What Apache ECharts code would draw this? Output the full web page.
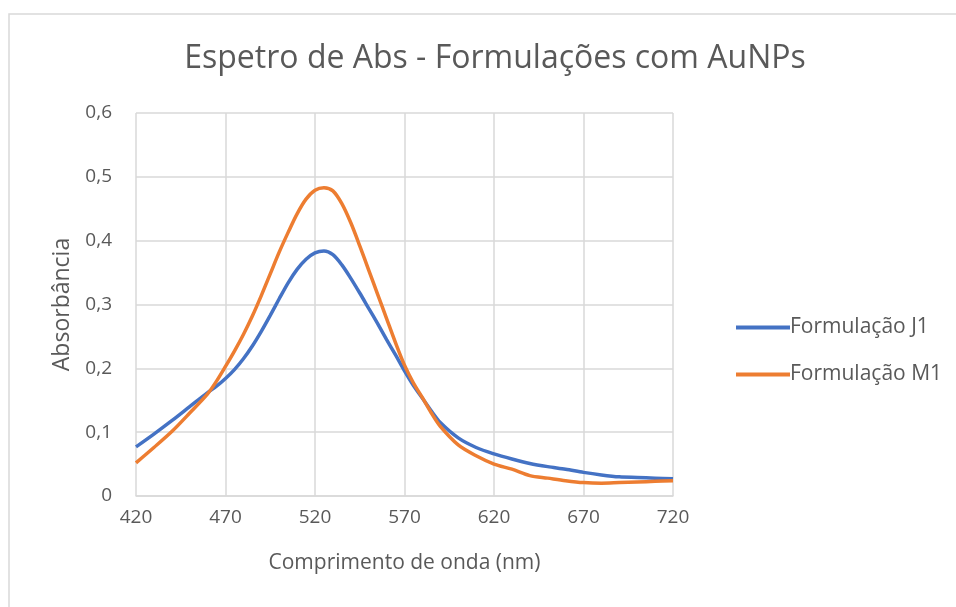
<!DOCTYPE html>
<html>
<head>
<meta charset="utf-8">
<script src="https://cdn.jsdelivr.net/npm/echarts@6/dist/echarts.min.js"></script>
<style>
  html, body { margin: 0; padding: 0; background: #fff; }
  #chart { width: 956px; height: 607px; }
</style>
</head>
<body>
<div id="chart"></div>
<script>
// wavelength (nm) and absorbance
const wavelengths = [420, 430, 440, 450, 460, 465, 470, 475, 480, 485, 490, 495, 500, 505, 510, 515, 520, 525, 530, 535, 540, 545, 550, 555, 560, 565, 570, 575, 580, 585, 590, 600, 610, 620, 630, 640, 650, 660, 670, 680, 690, 700, 710, 720]
const j1Values = [0.077, 0.097, 0.118, 0.140, 0.162, 0.172, 0.184, 0.198, 0.215, 0.235, 0.258, 0.283, 0.309, 0.334, 0.355, 0.371, 0.381, 0.384, 0.378, 0.362, 0.341, 0.318, 0.294, 0.270, 0.245, 0.221, 0.196, 0.173, 0.153, 0.133, 0.115, 0.091, 0.076, 0.066, 0.058, 0.051, 0.046, 0.042, 0.037, 0.033, 0.030, 0.029, 0.028, 0.027]
const m1Values = [0.052, 0.076, 0.101, 0.130, 0.160, 0.180, 0.203, 0.227, 0.253, 0.282, 0.314, 0.348, 0.382, 0.413, 0.442, 0.465, 0.479, 0.483, 0.478, 0.458, 0.428, 0.392, 0.354, 0.316, 0.278, 0.240, 0.205, 0.177, 0.154, 0.130, 0.109, 0.080, 0.063, 0.050, 0.042, 0.032, 0.028, 0.024, 0.021, 0.020, 0.021, 0.022, 0.023, 0.024]
const seriesNames = ['Formulação J1', 'Formulação M1']
const titleText = 'Espetro de Abs - Formulações com AuNPs'
const xAxisName = 'Comprimento de onda (nm)'
const yAxisName = 'Absorbância'

const font = 'Open Sans'
const textColor = '#595959'
const gridColor = '#d9d9d9'

const toPairs = (values) => wavelengths.map((w, i) => [w, values[i]])

const chart = echarts.init(document.getElementById('chart'), undefined, { renderer: 'canvas' })

chart.setOption({
  animation: false,
  color: ['#4472C4', '#ED7D31'],
  textStyle: { fontFamily: font, color: textColor },
  graphic: [
    {
      type: 'rect',
      shape: { x: 9, y: 14, width: 960, height: 610 },
      style: { fill: 'none', stroke: gridColor, lineWidth: 1.5 },
      silent: true,
    },
  ],
  title: {
    text: titleText,
    left: 490,
    textAlign: 'center',
    top: 38,
    textStyle: { fontFamily: font, fontSize: 32, fontWeight: 'normal', color: textColor },
  },
  legend: {
    orient: 'vertical',
    left: 731,
    top: 312,
    icon: 'rect',
    itemWidth: 54,
    itemHeight: 4,
    itemGap: 26,
    textStyle: { fontFamily: font, fontSize: 21, color: textColor, padding: [0, 0, 0, -5] },
    data: seriesNames,
  },
  grid: {
    left: 136,
    right: 283,
    top: 113,
    bottom: 111,
    outerBoundsMode: 'none',
  },
  xAxis: {
    type: 'value',
    min: 420,
    max: 720,
    interval: 50,
    name: xAxisName,
    nameLocation: 'middle',
    nameGap: 57,
    nameTextStyle: { fontFamily: font, fontSize: 21, color: textColor },
    axisLine: { show: true, lineStyle: { color: gridColor, width: 1.5 } },
    axisTick: { show: false },
    axisLabel: { fontFamily: font, fontSize: 19, color: textColor, margin: 12 },
    splitLine: { show: true, lineStyle: { color: gridColor, width: 1.5 } },
  },
  yAxis: {
    type: 'value',
    min: 0,
    max: 0.6,
    interval: 0.1,
    name: yAxisName,
    nameLocation: 'middle',
    nameGap: 62,
    nameTextStyle: { fontFamily: font, fontSize: 23, color: textColor },
    axisLine: { show: false },
    axisTick: { show: false },
    axisLabel: {
      fontFamily: font,
      fontSize: 19,
      color: textColor,
      margin: 24,
      formatter: (v) => String(Math.round(v * 10) / 10).replace('.', ','),
    },
    splitLine: { show: true, lineStyle: { color: gridColor, width: 1.5 } },
  },
  series: [
    {
      name: seriesNames[0],
      type: 'line',
      smooth: 0.3,
      symbol: 'none',
      lineStyle: { width: 3.5 },
      data: toPairs(j1Values),
    },
    {
      name: seriesNames[1],
      type: 'line',
      smooth: 0.3,
      symbol: 'none',
      lineStyle: { width: 3.5 },
      data: toPairs(m1Values),
    },
  ],
})
</script>
</body>
</html>
